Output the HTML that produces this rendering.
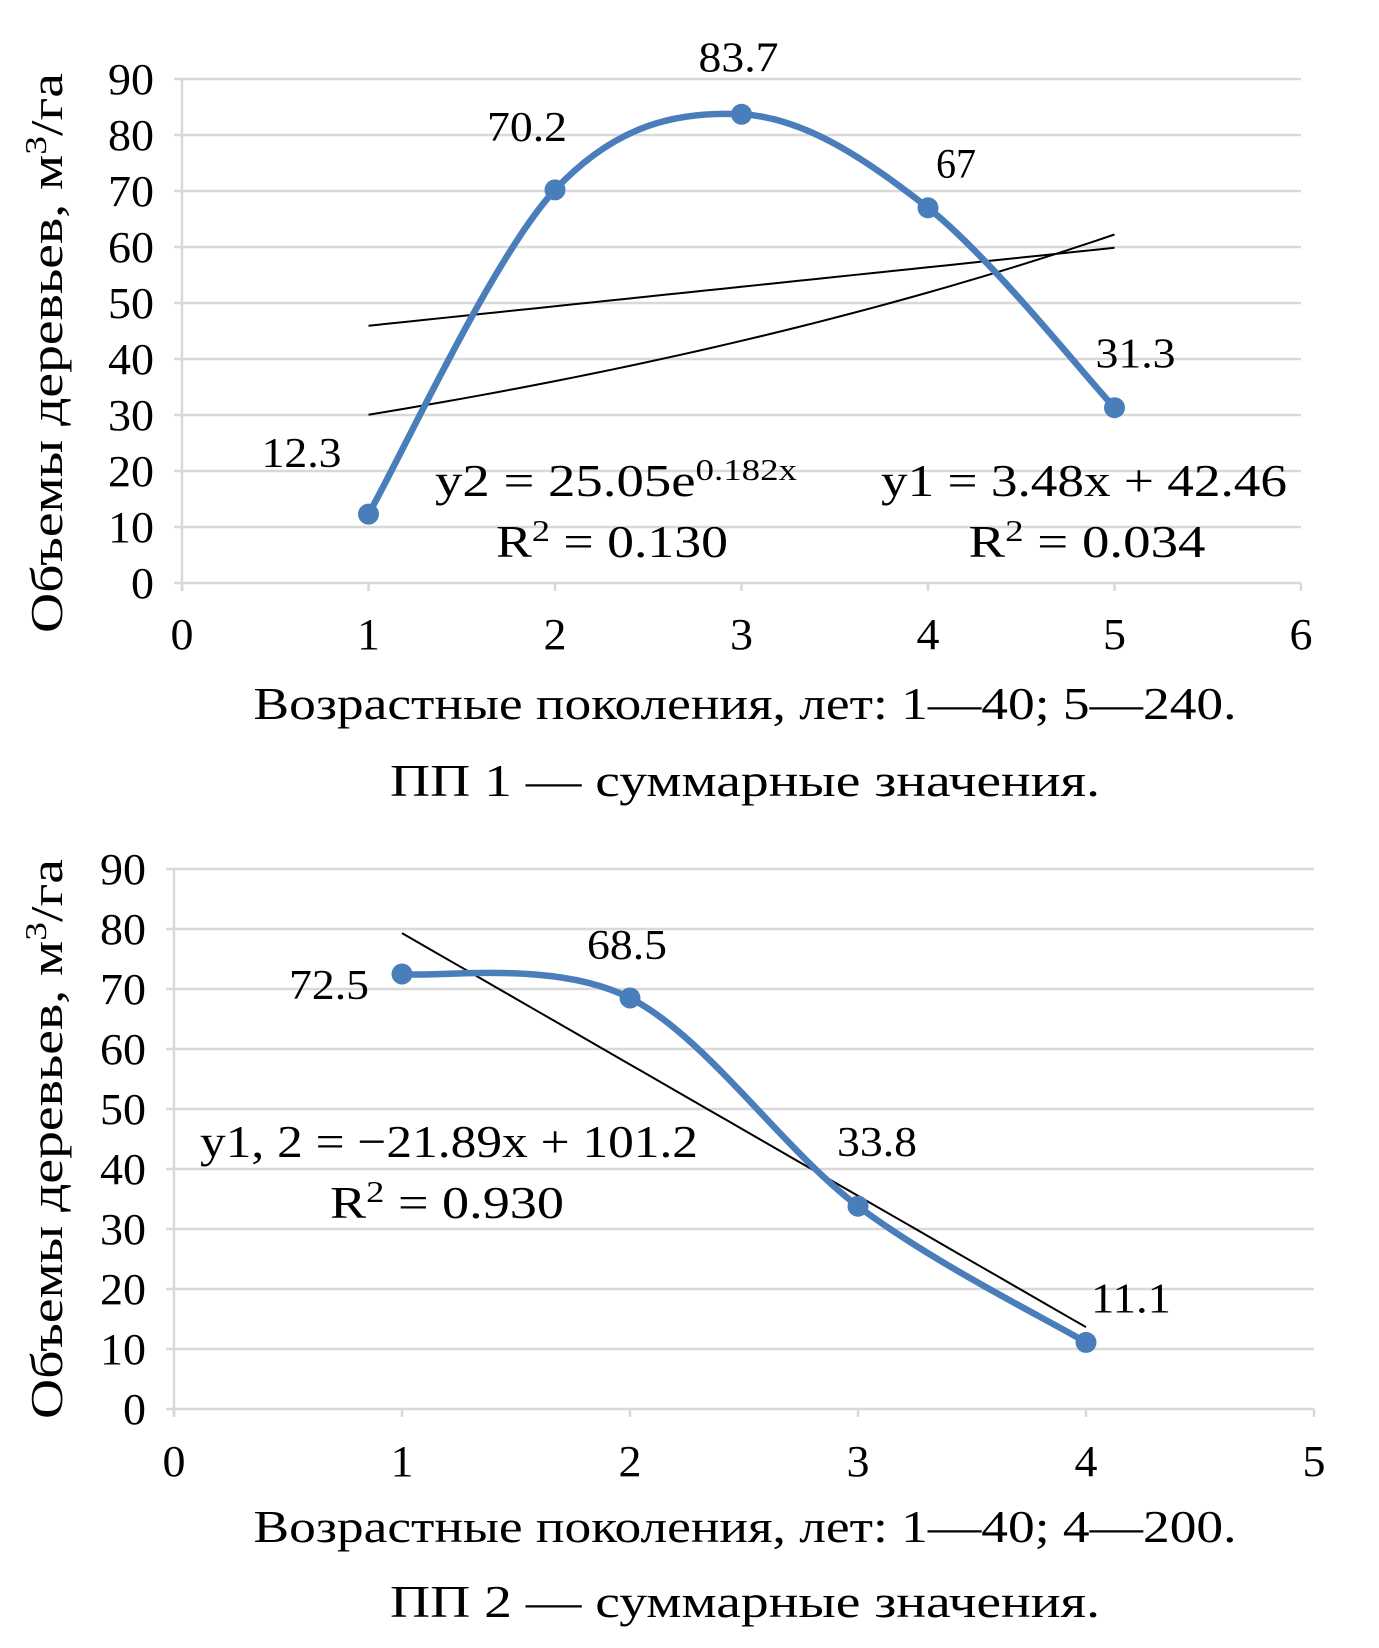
<!DOCTYPE html>
<html><head><meta charset="utf-8">
<style>
html,body{margin:0;padding:0;background:#fff;}
svg{display:block;}
text{font-family:"Liberation Serif","DejaVu Serif",serif;}
</style></head>
<body>
<svg id="svg" width="1379" height="1648" viewBox="0 0 1379 1648" xmlns="http://www.w3.org/2000/svg" font-family="Liberation Serif, DejaVu Serif, serif"></svg>
<script>
// ----- Chart 1 data -----
const c1Categories = [1, 2, 3, 4, 5];
const c1Values = [12.3, 70.2, 83.7, 67, 31.3];
const c1Labels = ["12.3", "70.2", "83.7", "67", "31.3"];
const c1XTicks = [0, 1, 2, 3, 4, 5, 6];
const c1YTicks = [0, 10, 20, 30, 40, 50, 60, 70, 80, 90];
const c1LinSlope = [3.48];
const c1LinIntercept = [42.46];
const c1ExpCoef = [25.05];
const c1ExpRate = [0.182];
// ----- Chart 2 data -----
const c2Categories = [1, 2, 3, 4];
const c2Values = [72.5, 68.5, 33.8, 11.1];
const c2Labels = ["72.5", "68.5", "33.8", "11.1"];
const c2XTicks = [0, 1, 2, 3, 4, 5];
const c2YTicks = [0, 10, 20, 30, 40, 50, 60, 70, 80, 90];
const c2LinSlope = [-21.89];
const c2LinIntercept = [101.2];

const NS = "http://www.w3.org/2000/svg";
const svg = document.getElementById('svg');
function el(tag, attrs, parent, text){
  const e = document.createElementNS(NS, tag);
  for (const k in attrs) e.setAttribute(k, attrs[k]);
  if (text !== undefined) e.textContent = text;
  (parent || svg).appendChild(e);
  return e;
}
function stretch(t, len){
  t.setAttribute('textLength', len);
  t.setAttribute('lengthAdjust', 'spacingAndGlyphs');
}
function smoothPath(pts){
  let d = `M${pts[0][0]},${pts[0][1]}`;
  for (let i = 0; i < pts.length - 1; i++){
    const p0 = pts[Math.max(i-1,0)], p1 = pts[i], p2 = pts[i+1], p3 = pts[Math.min(i+2,pts.length-1)];
    const c1x = p1[0] + (p2[0]-p0[0])/6, c1y = p1[1] + (p2[1]-p0[1])/6;
    const c2x = p2[0] - (p3[0]-p1[0])/6, c2y = p2[1] - (p3[1]-p1[1])/6;
    d += ` C${c1x},${c1y} ${c2x},${c2y} ${p2[0]},${p2[1]}`;
  }
  return d;
}
function drawChart(cfg){
  const g = el('g', {});
  
  
  const X = v => cfg.x0 + v*cfg.xu;
  const Y = v => cfg.y0 - v*cfg.yu;
  const xMax = cfg.xTicks[cfg.xTicks.length-1];
  cfg.yTicks.forEach(t => {
    const l = el('line', {x1: X(0)-8, x2: X(xMax), y1: Y(t), y2: Y(t), stroke: '#d9d9d9', 'stroke-width': 2.5}, g);
    
    
    const tx = el('text', {x: X(0)-28, y: Y(t)+15, 'text-anchor': 'end', 'font-size': 44}, g, String(t));
    stretch(tx, String(t).length * 23);
    
    
  });
  const ya = el('line', {x1: X(0), x2: X(0), y1: Y(cfg.yTicks[cfg.yTicks.length-1]), y2: Y(0)+8, stroke: '#d9d9d9', 'stroke-width': 2.5}, g);
  
  
  cfg.xTicks.forEach(t => {
    const tk = el('line', {x1: X(t), x2: X(t), y1: Y(0), y2: Y(0)+8, stroke: '#d9d9d9', 'stroke-width': 2.5}, g);
    
    
    const tx = el('text', {x: X(t), y: cfg.xTickY, 'text-anchor': 'middle', 'font-size': 44}, g, String(t));
    stretch(tx, 23);
    
    
  });
  cfg.trends.forEach((tr, i) => {
    const n = 40, a = cfg.cats[0], b = cfg.cats[cfg.cats.length-1];
    let d = '';
    for (let k = 0; k <= n; k++){ const xv = a + (b-a)*k/n; d += (k?'L':'M') + X(xv) + ',' + Y(tr(xv)); }
    const p = el('path', {d, fill: 'none', stroke: '#000', 'stroke-width': 2}, g);
    
    
  });
  const pts = cfg.cats.map((c,i) => [X(c), Y(cfg.vals[i])]);
  const line = el('path', {d: smoothPath(pts), fill: 'none', stroke: '#4a7ebb', 'stroke-width': 6.5, 'stroke-linecap': 'round'}, g);
  
  
  pts.forEach((p,i) => {
    const m = el('circle', {cx: p[0], cy: p[1], r: 10.5, fill: '#4a7ebb'}, g);
    
    
    const o = cfg.labelOff[i];
    const t = el('text', {x: p[0]+o[0], y: p[1]+o[1], 'text-anchor': 'middle', 'font-size': 42}, g, cfg.labels[i]);
    stretch(t, cfg.labels[i].length * 20);
    
    
  });
  const yt = el('text', {x: 0, y: 0, transform: `translate(${cfg.yTitleX},${cfg.yTitleY}) rotate(-90)`, 'text-anchor': 'middle', 'font-size': 46}, g);
  
  
  yt.appendChild(document.createTextNode('Объемы деревьев, м'));
  el('tspan', {dy: -16, 'font-size': 31}, yt, '3');
  el('tspan', {dy: 16}, yt, '/га');
  stretch(yt, 560);
  const xt = el('text', {x: 745, y: cfg.xTitleY, 'text-anchor': 'middle', 'font-size': 46}, g, cfg.xTitle);
  stretch(xt, 983);
  
  
  const ct = el('text', {x: 745, y: cfg.capY, 'text-anchor': 'middle', 'font-size': 46}, g, cfg.caption);
  stretch(ct, 710);
  
  
  return g;
}

const g1 = drawChart({
  name: 'chart-pp1', x0: 182, xu: 186.5, y0: 583, yu: 5.6,
  xTicks: c1XTicks, yTicks: c1YTicks, cats: c1Categories, vals: c1Values, labels: c1Labels,
  labelOff: [[-67,-47],[-28,-49],[-3,-43],[28,-30],[21,-40]],
  trends: [x => c1LinSlope[0]*x + c1LinIntercept[0], x => c1ExpCoef[0]*Math.exp(c1ExpRate[0]*x)],
  xTickY: 649, yTitleX: 62, yTitleY: 353,
  xTitle: 'Возрастные поколения, лет: 1—40; 5—240.', xTitleY: 719,
  caption: 'ПП 1 — суммарные значения.', capY: 796
});
function eq(g, x, y, anchor, parts, name, len){
  const t = el('text', {x, y, 'text-anchor': anchor, 'font-size': 46}, g);
  
  
  parts.forEach(p => {
    if (p.sup) el('tspan', {dy: -16, 'font-size': 31}, t, p.sup);
    else if (p.down) el('tspan', {dy: 16}, t, p.down);
    else t.appendChild(document.createTextNode(p.t));
  });
  stretch(t, len);
}
eq(g1, 435, 496, 'start', [{t:'y2 = 25.05e'},{sup:'0.182x'}], 'exp-trend-equation', 362);
eq(g1, 612, 557, 'middle', [{t:'R'},{sup:'2'},{down:' = 0.130'}], 'exp-trend-r2', 232);
eq(g1, 1084, 496, 'middle', [{t:'y1 = 3.48x + 42.46'}], 'linear-trend-equation', 406);
eq(g1, 1087, 557, 'middle', [{t:'R'},{sup:'2'},{down:' = 0.034'}], 'linear-trend-r2', 237);

const g2 = drawChart({
  name: 'chart-pp2', x0: 174, xu: 228, y0: 1409, yu: 6.0,
  xTicks: c2XTicks, yTicks: c2YTicks, cats: c2Categories, vals: c2Values, labels: c2Labels,
  labelOff: [[-73,25],[-3,-39],[19,-50],[45,-30]],
  trends: [x => c2LinSlope[0]*x + c2LinIntercept[0]],
  xTickY: 1476, yTitleX: 62, yTitleY: 1139,
  xTitle: 'Возрастные поколения, лет: 1—40; 4—200.', xTitleY: 1542,
  caption: 'ПП 2 — суммарные значения.', capY: 1617
});
eq(g2, 449, 1157, 'middle', [{t:'y1, 2 = −21.89x + 101.2'}], 'linear-trend-equation', 498);
eq(g2, 447, 1218, 'middle', [{t:'R'},{sup:'2'},{down:' = 0.930'}], 'linear-trend-r2', 234);
</script>
</body></html>
